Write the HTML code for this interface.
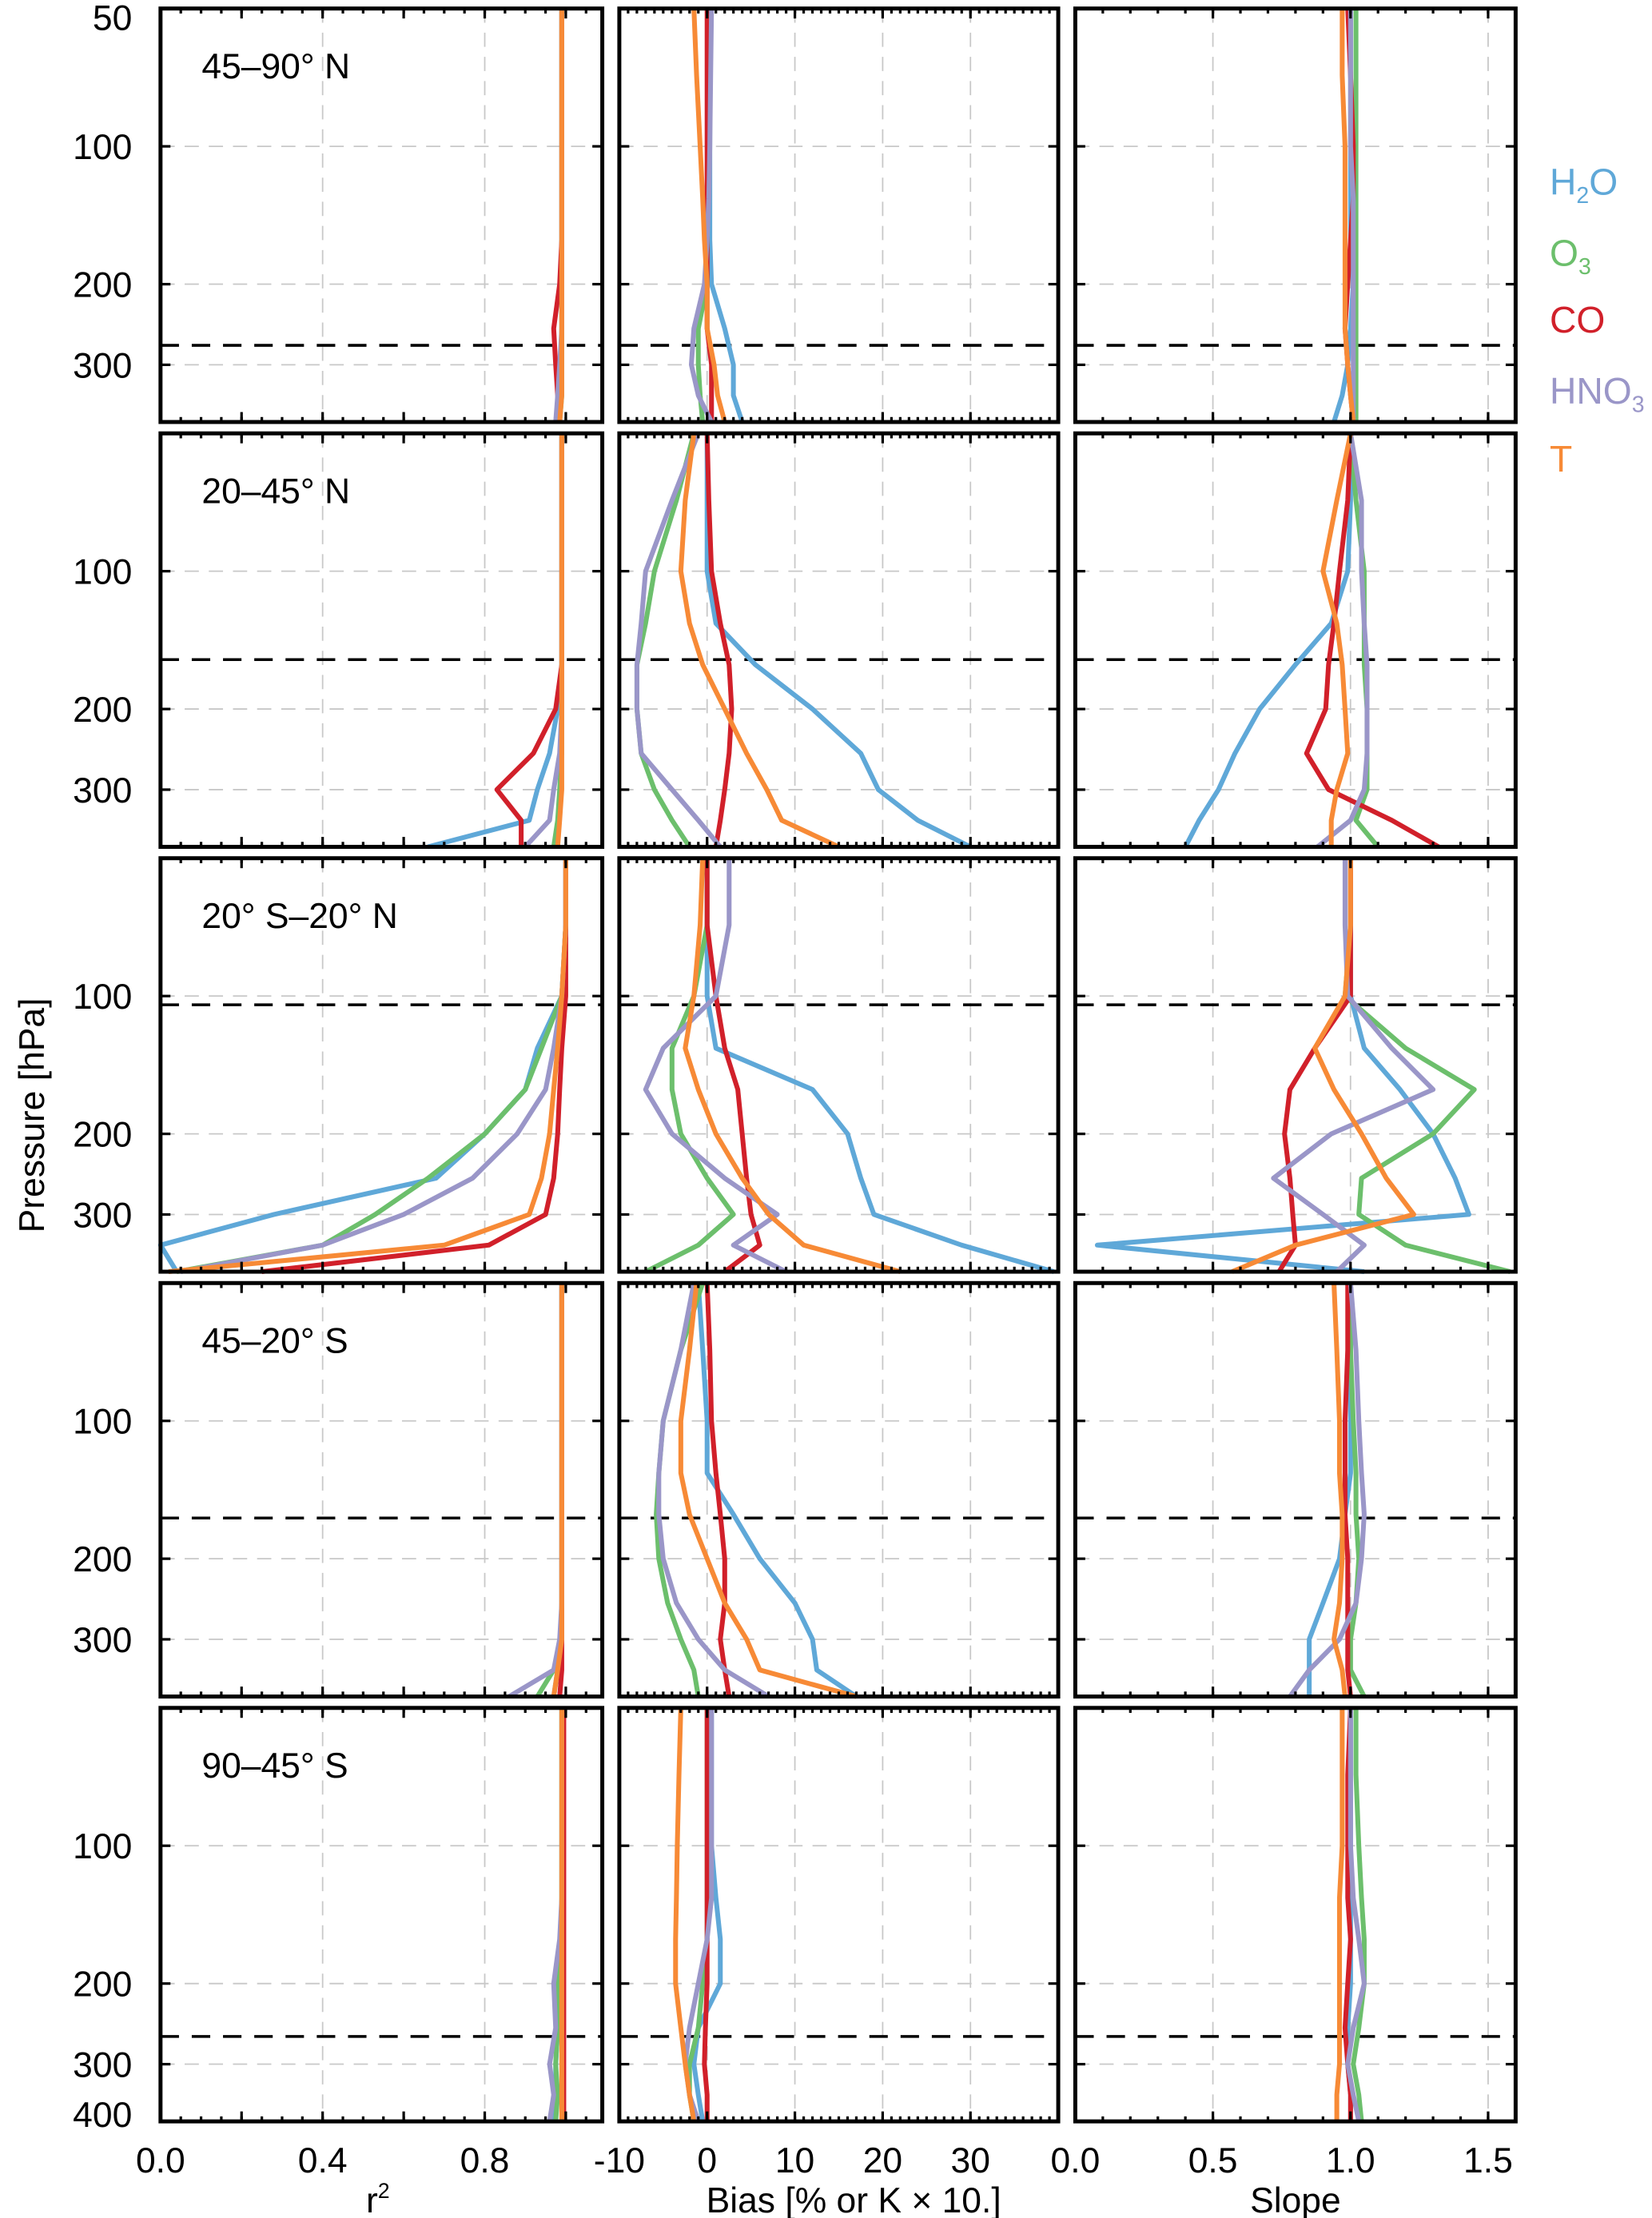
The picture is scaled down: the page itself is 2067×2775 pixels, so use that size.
<!DOCTYPE html>
<html><head><meta charset="utf-8"><style>
html,body{margin:0;padding:0;background:#fff;}
svg{display:block;font-family:"Liberation Sans",sans-serif;}
</style></head><body>
<svg id="chart" width="2067" height="2775" viewBox="0 0 1163 1561" preserveAspectRatio="none" xmlns="http://www.w3.org/2000/svg"></svg>
<script>
const levels=[50,70,100,130,160,200,250,300,350,400];
const seriesNames=["H2O","O3","CO","HNO3","T"];
const colors=["#5fa8d8","#6cbf6c","#d1202a","#9a96c8","#f78a36"];
const regionLabels=["45–90° N","20–45° N","20° S–20° N","45–20° S","90–45° S"];
const tropopause=[272,156,104.5,163,261];
const r2=[
[[0.99,0.99,0.99,0.99,0.99,0.99,0.99,0.99,0.985,0.98],[0.99,0.99,0.99,0.99,0.99,0.99,0.99,0.99,0.99,0.985],[0.99,0.99,0.99,0.99,0.99,0.985,0.97,0.975,0.98,0.985],[0.99,0.99,0.99,0.99,0.99,0.99,0.99,0.985,0.98,0.975],[0.99,0.99,0.99,0.99,0.99,0.99,0.99,0.99,0.99,0.985]],
[[0.99,0.99,0.99,0.99,0.99,0.98,0.96,0.93,0.91,0.66],[0.99,0.99,0.99,0.99,0.99,0.99,0.99,0.985,0.98,0.97],[0.99,0.99,0.99,0.99,0.99,0.975,0.92,0.83,0.89,0.89],[0.99,0.99,0.99,0.99,0.99,0.99,0.985,0.97,0.96,0.9],[0.99,0.99,0.99,0.99,0.99,0.99,0.99,0.99,0.985,0.98]],
[[1,1,0.99,0.93,0.9,0.8,0.68,0.28,0.0,0.04],[1,1,0.99,0.94,0.9,0.8,0.66,0.53,0.4,0.04],[1,1,1,0.99,0.985,0.98,0.97,0.95,0.81,0.25],[1,1,0.99,0.97,0.95,0.88,0.77,0.6,0.4,0.05],[1,1,0.99,0.98,0.97,0.96,0.94,0.91,0.7,0.02]],
[[0.99,0.99,0.99,0.99,0.99,0.99,0.99,0.99,0.98,0.97],[0.99,0.99,0.99,0.99,0.99,0.99,0.99,0.99,0.97,0.93],[0.99,0.99,0.99,0.99,0.99,0.99,0.99,0.99,0.99,0.985],[0.99,0.99,0.99,0.99,0.99,0.99,0.99,0.985,0.97,0.86],[0.99,0.99,0.99,0.99,0.99,0.99,0.99,0.99,0.98,0.97]],
[[0.99,0.99,0.99,0.99,0.99,0.98,0.98,0.975,0.975,0.97],[0.99,0.99,0.99,0.99,0.99,0.98,0.98,0.975,0.98,0.975],[0.995,0.995,0.995,0.995,0.995,0.995,0.995,0.995,0.995,0.995],[0.99,0.99,0.99,0.99,0.985,0.97,0.975,0.96,0.97,0.96],[0.99,0.99,0.99,0.99,0.99,0.99,0.99,0.99,0.99,0.99]]
];
const bias=[
[[0.3,0.3,0.3,0.3,0.3,0.5,2,3,3,4],[0.3,0.3,0.2,0.1,0,0,-1,-1,-0.8,-0.5],[0,0,0,0,0,0,0,0.5,0.5,0.5],[0.5,0.4,0.3,0.2,0,-0.3,-1.5,-1.8,-1,0.5],[-1.5,-1.2,-0.8,-0.5,-0.3,0,0,0.8,1.2,2]],
[[0,0,0,1,5.5,12,17.5,19.5,24,30],[-1.5,-3.5,-6,-7,-8,-8,-7.5,-6,-4,-2],[0,0.2,0.5,1.5,2.5,2.8,2.5,2,1.5,1],[-1,-4,-7,-7.5,-8,-8,-7.5,-4,-1,1.5],[-1.5,-2.5,-3,-2,-0.5,2,4.5,6.8,8.5,15]],
[[0,0,0,1,12,16,17.5,19,29,39.5],[0,0,-1.5,-4,-4,-3,0,3,-1,-7],[0,0,1,2,3.5,4,4.5,5,6,2],[2.5,2.5,1,-5,-7,-4,2,8,3,9],[-0.5,-0.8,-1.5,-2.5,-1,1,4,7,11,22]],
[[-1,-0.5,0,0,3,6,10,12,12.5,17],[-0.5,-3,-5,-5.5,-5.8,-5.5,-4.5,-3,-1.5,-1],[0,0.3,0.5,1,1.5,2,2,1.5,2,2.5],[-1.5,-3,-5,-5.5,-5.5,-5,-3.5,-1,2,7],[-1.2,-2,-3,-3,-2,0,2,4.5,6,17]],
[[0.5,0.5,0.5,1,1.5,1.5,-1,-1.5,-1,-0.5],[0,0,0,0,0,-0.5,-1,-2,-2,-1.5],[0,0,0,0,0,0,-0.2,-0.3,0,0],[0.5,0.5,0.5,0.5,0,-1,-2,-2.5,-2,-1],[-3,-3.2,-3.4,-3.5,-3.6,-3.6,-3,-2.5,-2,-1.5]]
];
const slope=[
[[1,1,1,1,1,1.01,1,0.99,0.97,0.94],[1.02,1.02,1.02,1.02,1.02,1.02,1.02,1.02,1.02,1.02],[0.99,1,1.01,1.01,1,0.99,0.98,0.99,1,1.01],[1,1,1,1.01,1.01,1.01,1.01,1.01,1.01,1.01],[0.97,0.97,0.98,0.98,0.98,0.98,0.98,0.99,1,1.01]],
[[1,1,0.99,0.93,0.8,0.67,0.58,0.52,0.45,0.4],[1,1.02,1.05,1.05,1.05,1.06,1.06,1.06,1.02,1.1],[1,0.99,0.96,0.94,0.92,0.91,0.84,0.92,1.15,1.32],[1,1.04,1.04,1.05,1.06,1.06,1.06,1.05,1,0.88],[1,0.95,0.9,0.95,0.97,0.98,0.99,0.95,0.93,0.93]],
[[1,1,1,1.05,1.18,1.3,1.38,1.43,0.08,1.05],[1,1,0.98,1.2,1.45,1.3,1.04,1.03,1.2,1.58],[1,1,1,0.87,0.78,0.76,0.78,0.79,0.8,0.74],[0.98,0.98,0.99,1.15,1.3,0.93,0.72,0.9,1.05,0.95],[1,1,0.98,0.87,0.94,1.04,1.13,1.23,0.8,0.57]],
[[1,1,1,1,0.98,0.96,0.9,0.85,0.85,0.85],[1,1,1.01,1.02,1.02,1.03,1.02,1,1,1.05],[0.99,0.99,0.98,0.98,0.98,0.99,0.99,0.99,0.99,1],[1,1.02,1.03,1.04,1.05,1.04,1.02,0.96,0.85,0.78],[0.94,0.95,0.96,0.96,0.97,0.97,0.96,0.94,0.97,0.98]],
[[1,1,1,1,1,1,0.99,0.99,1,1],[1.02,1.02,1.03,1.04,1.05,1.05,1.03,1.01,1.03,1.04],[1,0.99,0.99,0.99,1,0.99,0.98,0.99,1,1],[1,1,1,1.01,1.03,1.05,1.01,0.99,1.01,1.03],[0.97,0.97,0.97,0.96,0.96,0.96,0.96,0.96,0.95,0.95]]
];
const colData=[r2,bias,slope];
const xRanges=[[0,1.09],[-10,40],[0,1.6]];
const xMajor=[[0,0.2,0.4,0.6,0.8,1.0],[-10,0,10,20,30,40],[0,0.5,1.0,1.5]];
const xMinorStep=[0.05,1,0.1];
const xGrid=[[0.4,0.8],[0,10,20,30],[0.5,1.0,1.5]];
const xTickLabels=[["0.0","0.4","0.8"],["-10","0","10","20","30"],["0.0","0.5","1.0","1.5"]];
const xTickLabelVals=[[0,0.4,0.8],[-10,0,10,20,30],[0,0.5,1.0,1.5]];
const colX=[[113,424],[436,745],[757,1067]];
const rowY=[[6,297],[305,596],[604,895],[903,1194],[1202,1493]];
const pTop=50,pBot=400;

const NS="http://www.w3.org/2000/svg";
const svg=document.getElementById('chart');
function el(tag,attrs,parent){const e=document.createElementNS(NS,tag);for(const k in attrs)e.setAttribute(k,attrs[k]);(parent||svg).appendChild(e);return e;}
function yScale(r,p){const [t,b]=rowY[r];return t+(b-t)*Math.log(p/pTop)/Math.log(pBot/pTop);}
function xScale(c,v){const [l,rr]=colX[c];const [a,b]=xRanges[c];return l+(rr-l)*(v-a)/(b-a);}

for(let r=0;r<5;r++){
  for(let c=0;c<3;c++){
    const g=el('g',{});
    
    
    const [l,rt]=colX[c],[t,b]=rowY[r];
    xGrid[c].forEach(v=>{const x=xScale(c,v);const gl=el('line',{x1:x,x2:x,y1:t,y2:b,stroke:'#c8c8c8','stroke-width':1,'stroke-dasharray':'10,7'},g);});
    [100,200,300].forEach(p=>{const y=yScale(r,p);const gl=el('line',{x1:l,x2:rt,y1:y,y2:y,stroke:'#c8c8c8','stroke-width':1,'stroke-dasharray':'10,7'},g);});
    const ty=yScale(r,tropopause[r]);
    const tl=el('line',{x1:l,x2:rt,y1:ty,y2:ty,stroke:'#000','stroke-width':2,'stroke-dasharray':'13,9'},g);
    
    const d=colData[c][r];
    for(let s=0;s<5;s++){
      const pts=d[s].map((v,i)=>xScale(c,v).toFixed(1)+','+yScale(r,levels[i]).toFixed(1)).join(' ');
      const pl=el('polyline',{points:pts,fill:'none',stroke:colors[s],'stroke-width':3.4,'stroke-linejoin':'round'},g);
      
      
    }
    const [a,bb]=xRanges[c];
    for(let v=a;v<=bb+1e-9;v+=xMinorStep[c]){const x=xScale(c,v);el('line',{x1:x,x2:x,y1:b,y2:b-3.5,stroke:'#000','stroke-width':1.8},g);el('line',{x1:x,x2:x,y1:t,y2:t+3.5,stroke:'#000','stroke-width':1.8},g);}
    xMajor[c].forEach(v=>{const x=xScale(c,v);el('line',{x1:x,x2:x,y1:b,y2:b-7,stroke:'#000','stroke-width':1.8},g);el('line',{x1:x,x2:x,y1:t,y2:t+7,stroke:'#000','stroke-width':1.8},g);});
    const yt=r===4?[100,200,300,400]:[100,200,300];
    yt.forEach(p=>{const y=yScale(r,p);el('line',{x1:l,x2:l+7,y1:y,y2:y,stroke:'#000','stroke-width':1.8},g);el('line',{x1:rt,x2:rt-7,y1:y,y2:y,stroke:'#000','stroke-width':1.8},g);});
    const fr=el('rect',{x:l,y:t,width:rt-l,height:b-t,fill:'none',stroke:'#000','stroke-width':2.8},g);
    
  }
  const yl=[100,200,300];
  if(r===0)yl.unshift(50);
  if(r===4)yl.push(400);
  yl.forEach(p=>{let y=yScale(r,p)+9;if(p===50)y=yScale(r,p)+15;if(p===400)y=yScale(r,p)+4;const tx=el('text',{x:93,y:y,'text-anchor':'end','font-size':25});tx.textContent=String(p);});
  const rl=el('text',{x:142,y:rowY[r][0]+49,'font-size':25});
  rl.textContent=regionLabels[r];
  
  
}
for(let c=0;c<3;c++){
  xTickLabels[c].forEach((lab,i)=>{const tx=el('text',{x:xScale(c,xTickLabelVals[c][i]),y:1529,'text-anchor':'middle','font-size':25});tx.textContent=lab;});
}
const t1=el('text',{x:266,y:1557,'text-anchor':'middle','font-size':25});


el('tspan',{},t1).textContent='r';
const sup=el('tspan',{'font-size':15,dy:-10},t1);sup.textContent='2';
const t2=el('text',{x:601,y:1557,'text-anchor':'middle','font-size':25});
t2.textContent='Bias [% or K × 10.]';


const t3=el('text',{x:912,y:1557,'text-anchor':'middle','font-size':25});
t3.textContent='Slope';


const yt=el('text',{x:0,y:0,'text-anchor':'middle','font-size':25,transform:'translate(31,785) rotate(-90)'});
yt.textContent='Pressure [hPa]';


const legY=[137,187,234,284,332];
const legHTML=[['H','2','O'],['O','3',''],['CO','',''],['HNO','3',''],['T','','']];
legHTML.forEach((p,i)=>{
  const tx=el('text',{x:1091,y:legY[i],'font-size':26,fill:colors[i]});
  
  
  const a=el('tspan',{},tx);a.textContent=p[0];
  if(p[1]){const sb=el('tspan',{'font-size':16,dy:6},tx);sb.textContent=p[1];}
  if(p[2]){const c=el('tspan',{dy:-6},tx);c.textContent=p[2];}
});
</script>
</body></html>
